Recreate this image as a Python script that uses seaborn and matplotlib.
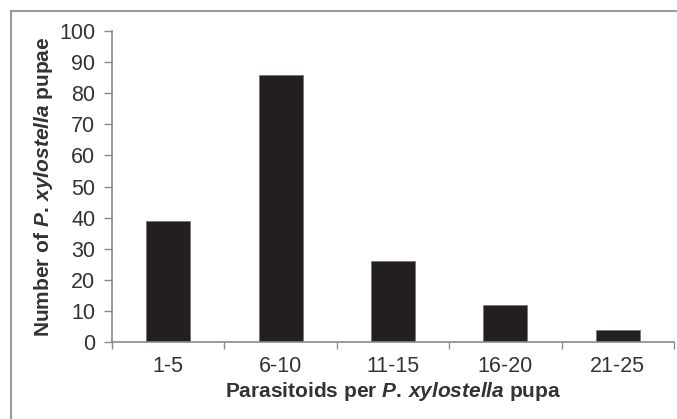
import matplotlib
matplotlib.use("Agg")
import matplotlib.pyplot as plt
import seaborn as sns
import pandas as pd
import numpy as np

# data
classes = ["1-5", "6-10", "11-15", "16-20", "21-25"]
pupae = [39, 86, 26, 12, 4]

sns.set_theme(style="white")
plt.rcParams["font.family"] = ["Liberation Sans", "DejaVu Sans"]
plt.rcParams["mathtext.fontset"] = "custom"
plt.rcParams["mathtext.it"] = "Liberation Sans:italic:bold"
plt.rcParams["mathtext.rm"] = "Liberation Sans:bold"

df = pd.DataFrame({"cls": classes, "n": pupae})

fig = plt.figure(figsize=(6.77, 4.19), dpi=100)
ax = fig.add_axes([112 / 677, 1 - 342 / 419, (674 - 112) / 677, (342 - 31) / 419])

sns.barplot(data=df, x="cls", y="n", color="#231f20", width=0.39,
            edgecolor="#777777", linewidth=0.6, saturation=1, ax=ax)

axis_grey = "#8a8a8a"
txt = "#333333"
fs = 15.5

ax.set_ylim(0, 100)
ax.set_xlim(-0.5, len(classes) - 0.5)
ax.set_yticks(np.arange(0, 101, 10))
ax.tick_params(axis="y", direction="out", length=6, width=1, color=axis_grey,
               labelsize=fs, labelcolor=txt, pad=6, left=True)

# ticks between categories, labels at the centres
ax.set_xticks(np.arange(-0.5, len(classes), 1.0))
ax.set_xticklabels([])
ax.set_xticks(np.arange(len(classes)), minor=True)
ax.set_xticklabels(classes, minor=True)
ax.tick_params(axis="x", which="major", direction="out", length=5, width=1,
               color=axis_grey, bottom=True)
ax.tick_params(axis="x", which="minor", length=0, labelsize=fs,
               labelcolor=txt, pad=10)

for side in ["top", "right"]:
    ax.spines[side].set_visible(False)
for side in ["left", "bottom"]:
    ax.spines[side].set_color(axis_grey)
    ax.spines[side].set_linewidth(1.2)

ax.set_ylabel(r"Number of $\it{P.\,xylostella}$ pupae", fontsize=15,
              fontweight="bold", color=txt, labelpad=3)
ax.set_xlabel(r"Parasitoids per $\it{P.\,xylostella}$ pupa", fontsize=15,
              fontweight="bold", color=txt, labelpad=2)

# thin frame around the whole figure (cut off at right/bottom in the original)
frame = plt.Rectangle((11 / 677, -0.05), 1.0, 1 - 11 / 419 + 0.05,
                      transform=fig.transFigure, fill=False,
                      edgecolor="#9a9a9a", linewidth=1.5)
fig.patches.append(frame)

fig.savefig("out.png", dpi=100)
